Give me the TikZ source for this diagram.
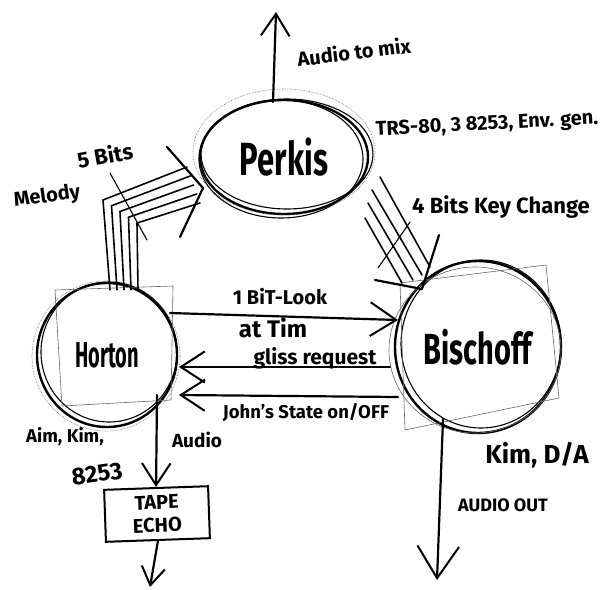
\documentclass[tikz,border=0pt]{standalone}
\usepackage{fontspec}
\setmainfont{Fira Sans}
\usetikzlibrary{shapes.geometric,calc,arrows.meta}
\newcommand{\fs}[1]{\fontsize{#1}{#1}\selectfont\bfseries}
\begin{document}
\begin{tikzpicture}[x=1pt,y=-1pt,
  ink/.style={line width=2.2pt, line cap=round, line join=round},
  inkthin/.style={line width=1.1pt, line cap=round},
  faint/.style={line width=0.6pt, black!60},
  busline/.style={line width=1.6pt, line cap=round, line join=miter},
  person/.style={ellipse, draw, line width=2.4pt, inner sep=0pt},
  lbl/.style={inner sep=0pt, font=\fs{20}},
  barb/.style={-{Straight Barb[length=#1,width=1.3*#1,line width=2pt]}},
  barb/.default=20pt,
  echobox/.style={draw, line width=2pt, minimum width=104pt, minimum height=52pt, inner sep=1pt, align=center, font=\fontsize{20}{23}\selectfont\bfseries}
]
\useasboundingbox (0,0) rectangle (615,589);

% ---------------- people
\node[person, minimum width=168pt, minimum height=114pt, font=\fs{31}] (perkis) at (284,157) {\raisebox{-0.15em}{\scalebox{1}[1.5]{Perkis}}};
\node[person, minimum width=140pt, minimum height=144pt, font=\fs{20}] (horton) at (107,355) {\scalebox{1}[1.8]{Horton}};
\node[person, minimum width=166pt, minimum height=172pt, font=\fs{29}] (bischoff) at (478,347) {\scalebox{1}[1.5]{Bischoff}};

% sketchy extra strokes
\draw[inkthin] (287,154) ellipse [x radius=86pt, y radius=55pt];
\draw[inkthin] (281,159) ellipse [x radius=82pt, y radius=59pt];
\draw[faint, densely dotted] (284,152) ellipse [x radius=91pt, y radius=63pt];
\draw[inkthin] (109,352) ellipse [x radius=68pt, y radius=70pt];
\draw[faint, densely dotted] (106,356) ellipse [x radius=74pt, y radius=75pt];
\draw[inkthin] (481,344) ellipse [x radius=80pt, y radius=84pt];
\draw[faint] (475,350) ellipse [x radius=86pt, y radius=83pt];

% faint boxes behind Horton and Bischoff
\draw[faint] (55,290) -- (173,286) -- (171,400) -- (62,406) -- cycle;
\draw[faint] (400,283) -- (546,265) -- (559,398) -- (405,430) -- cycle;

% ---------------- Audio to mix
\coordinate (mixtop) at (276,12);
\draw[ink, barb=22pt] ($(perkis.center)+(-11,-55)$) -- (mixtop);
\node[lbl, font=\fs{20}, rotate=7] (lmix) at (354,52) {Audio to mix};
\node[lbl, font=\fs{20}, rotate=3] (ltrs) at (487,125) {TRS-80, 3 8253, Env. gen.};

% ---------------- 5 bit bus Horton -> Perkis
\foreach \i in {0,...,4} {
  \draw[busline] ($(horton.north)+(3+7*\i,8)$) -- (103+8.5*\i,200+5.75*\i) -- ($(perkis.center)+(-97+3.25*\i,10+9*\i)$);
}
\coordinate (ptip) at ($(perkis.center)+(-81,31)$);
\draw[ink] ($(ptip)+(-36,-41)$) -- (ptip) -- ($(ptip)+(-23,49)$);
\draw[inkthin] (110,173) -- (147,240);
\node[lbl, font=\fs{22}, rotate=10] (l5bits) at (105,155) {5 Bits};
\node[lbl, font=\fs{20}, rotate=8] (lmelody) at (47,197) {Melody};

% ---------------- 4 bit bus Perkis -> Bischoff
\draw[busline] ($(perkis.center)+(96,20)$) -- ($(bischoff.center)+(-48,-80)$);
\draw[busline] ($(perkis.center)+(88,33)$) -- ($(bischoff.center)+(-56,-72)$);
\draw[busline] ($(perkis.center)+(84,46)$) -- ($(bischoff.center)+(-65,-67)$);
\draw[busline] ($(perkis.center)+(81,61)$) -- ($(bischoff.center)+(-76,-64)$);
\coordinate (btip) at ($(bischoff.center)+(-56,-58)$);
\draw[ink] ($(btip)+(-47,-9)$) -- (btip) -- ($(btip)+(17,-54)$);
\draw[inkthin] (410,222) -- (378,268);
\node[lbl, font=\fs{22}] (l4bits) at (501,207) {4 Bits Key Change};

% ---------------- horizontal links
\draw[ink, barb=26pt] ($(horton.center)+(63,-42)$) -- ($(bischoff.center)+(-80,-27)$);
\node[lbl, font=\fs{20}] (l1bit) at (280,297) {1 BiT-Look};
\node[lbl, font=\fs{24}] (lattim) at (273,328) {at Tim};

\draw[ink, barb=24pt] ($(bischoff.center)+(-88,20)$) -- ($(horton.center)+(72,12)$);
\node[lbl, font=\fs{21}] (lgliss) at (315,358) {gliss request};

\draw[ink, barb=24pt] ($(bischoff.center)+(-80,50)$) -- ($(horton.center)+(72,40)$);
\node[lbl, font=\fs{18.5}] (ljohn) at (306,413) {John's State on/OFF};

% ---------------- Horton audio -> tape echo
\node[echobox, rotate=2] (echo) at (157,514) {TAPE\\ECHO};
\draw[ink, barb=22pt] ($(horton.center)+(50,40)$) -- (echo.north);
\node[lbl, font=\fs{19}] (laudio) at (197,440) {Audio};
\node[lbl, font=\fs{18.5}] (laimkim) at (65,437) {Aim, Kim,};
\node[lbl, font=\fs{24}, rotate=8] (l8253) at (97,474) {8253};
\coordinate (echoout) at (150,587);
\draw[ink, barb=18pt] (echo.south) -- (echoout);

% ---------------- Bischoff audio out
\coordinate (bout) at (437,580);
\draw[ink, barb=32pt] ($(bischoff.center)+(-35,72)$) -- (bout);
\node[lbl, font=\fs{26}] (lkim) at (537,455) {Kim, D/A};
\node[lbl, font=\fs{18}] (laudioout) at (503,505) {AUDIO OUT};
\end{tikzpicture}
\end{document}
